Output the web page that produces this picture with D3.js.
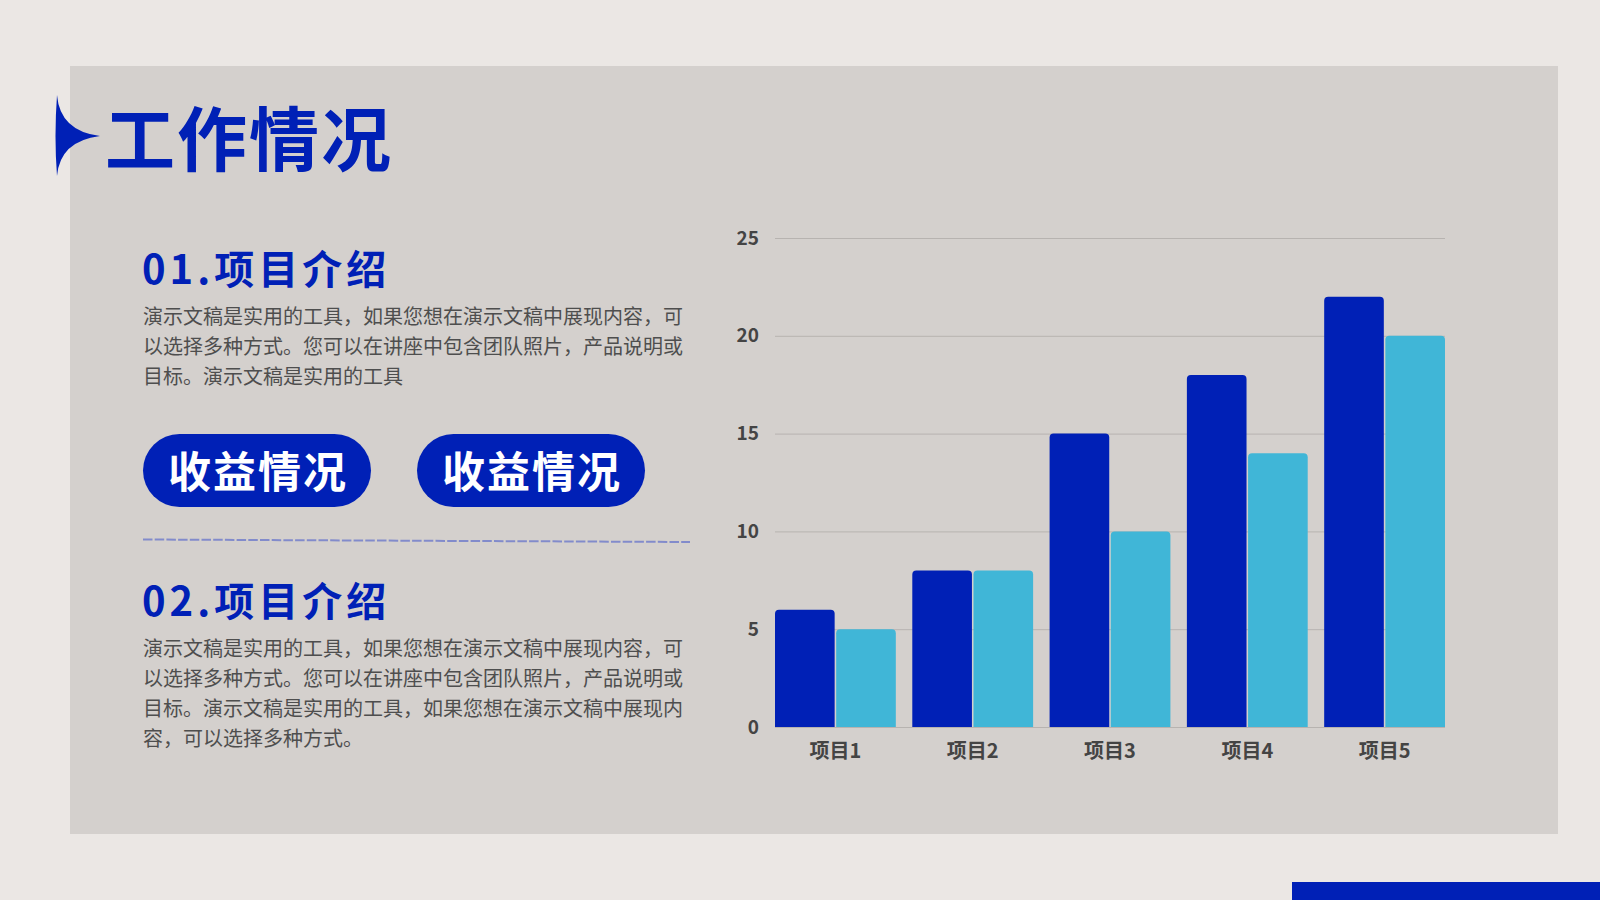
<!DOCTYPE html>
<html>
<head>
<meta charset="utf-8">
<script src="https://cdn.jsdelivr.net/npm/d3@7"></script>
<style>
  html, body { margin: 0; padding: 0; background: #ebe7e4; }
  svg { display: block; }
  text { font-family: "Noto Sans CJK SC", "Noto Sans", sans-serif; }
</style>
</head>
<body>
<script>
//------------------------------------------------------------------------------
// Data
//------------------------------------------------------------------------------

var categories = ["项目1", "项目2", "项目3", "项目4", "项目5"];
var seriesA = [6, 8, 15, 18, 22];
var seriesB = [5, 8, 10, 14, 20];
var yTicks = [0, 5, 10, 15, 20, 25];

var pageTitle = "工作情况";
var sectionTitles = ["01.项目介绍", "02.项目介绍"];
var sectionLines = [
  ["演示文稿是实用的工具，如果您想在演示文稿中展现内容，可",
   "以选择多种方式。您可以在讲座中包含团队照片，产品说明或",
   "目标。演示文稿是实用的工具"],
  ["演示文稿是实用的工具，如果您想在演示文稿中展现内容，可",
   "以选择多种方式。您可以在讲座中包含团队照片，产品说明或",
   "目标。演示文稿是实用的工具，如果您想在演示文稿中展现内",
   "容，可以选择多种方式。"]
];
var buttonLabels = ["收益情况", "收益情况"];

//------------------------------------------------------------------------------
// Page
//------------------------------------------------------------------------------

var W = 1600, H = 900;
var blue = "#0020b6", cyan = "#40b6d7";

var svg = d3.select("body").append("svg")
  .attr("width", W)
  .attr("height", H);

svg.append("rect").attr("width", W).attr("height", H).attr("fill", "#ebe7e4");
svg.append("rect")
  .attr("x", 70).attr("y", 66)
  .attr("width", 1488).attr("height", 768)
  .attr("fill", "#d4d0cd");
svg.append("rect")
  .attr("x", 1292).attr("y", 882)
  .attr("width", W - 1292).attr("height", 18)
  .attr("fill", blue);

// title marker + title
svg.append("path")
  .attr("d", "M57,95 Q60,131 100,136 Q60,141 57,176 Q54,136 57,95 Z")
  .attr("fill", blue);
svg.append("text")
  .attr("x", 105).attr("y", 166)
  .attr("font-size", 70)
  .attr("font-weight", 700)
  .attr("letter-spacing", 2)
  .attr("fill", blue)
  .text(pageTitle);

// sections
var sectionTop = [284, 616];
sectionTitles.forEach(function(t, i) {
  svg.append("text")
    .attr("x", 142).attr("y", sectionTop[i])
    .attr("font-size", 40)
    .attr("font-weight", 700)
    .attr("letter-spacing", 4)
    .attr("fill", blue)
    .text(t);
  svg.append("g").selectAll("text")
    .data(sectionLines[i])
    .join("text")
      .attr("x", 143)
      .attr("y", function(d, j) { return sectionTop[i] + 40 + j * 30; })
      .attr("font-size", 20)
      .attr("fill", "#4e4e4e")
      .text(function(d) { return d; });
});

// buttons
var btn = svg.append("g").selectAll("g")
  .data(buttonLabels)
  .join("g")
    .attr("transform", function(d, i) { return "translate(" + (143 + i * 274) + ",434)"; });
btn.append("rect")
  .attr("width", 228).attr("height", 73)
  .attr("rx", 36.5).attr("ry", 36.5)
  .attr("fill", blue);
btn.append("text")
  .attr("x", 115).attr("y", 54)
  .attr("text-anchor", "middle")
  .attr("font-size", 43)
  .attr("font-weight", 700)
  .attr("letter-spacing", 2)
  .attr("fill", "#ffffff")
  .text(function(d) { return d; });

// dashed divider (slightly tilted, as in the slide)
svg.append("line")
  .attr("x1", 143).attr("y1", 539.5)
  .attr("x2", 690).attr("y2", 542)
  .attr("stroke", "#828bcb")
  .attr("stroke-width", 2)
  .attr("stroke-dasharray", "9.5,2.2");

//------------------------------------------------------------------------------
// Chart
//------------------------------------------------------------------------------

var plot = { left: 775, right: 1445, top: 238, bottom: 727 };

var x = d3.scaleBand()
  .domain(categories)
  .range([plot.left, plot.right])
  .paddingInner(0.12)
  .paddingOuter(0);

var xs = d3.scaleBand()
  .domain(["a", "b"])
  .range([0, x.bandwidth()])
  .paddingInner(0.025);

var y = d3.scaleLinear()
  .domain([0, 25])
  .range([plot.bottom, plot.top]);

var chart = svg.append("g");

// gridlines + y labels
chart.append("g")
  .attr("transform", "translate(" + plot.left + ",0)")
  .call(d3.axisLeft(y).tickValues(yTicks).tickSize(-(plot.right - plot.left)).tickPadding(16))
  .call(function(g) {
    g.select(".domain").remove();
    g.selectAll(".tick line").attr("stroke", "#b7b3b0").attr("stroke-width", 1);
    g.selectAll(".tick text")
      .attr("font-family", "'Noto Sans CJK SC', sans-serif")
      .attr("font-size", 19)
      .attr("font-weight", 700)
      .attr("fill", "#444");
  });

function topRounded(x0, y0, w, h, r) {
  r = Math.min(r, h);
  return "M" + x0 + "," + (y0 + h) +
    "V" + (y0 + r) +
    "Q" + x0 + "," + y0 + " " + (x0 + r) + "," + y0 +
    "H" + (x0 + w - r) +
    "Q" + (x0 + w) + "," + y0 + " " + (x0 + w) + "," + (y0 + r) +
    "V" + (y0 + h) + "Z";
}

var groups = chart.append("g").selectAll("g")
  .data(categories)
  .join("g")
    .attr("transform", function(d) { return "translate(" + x(d) + ",0)"; });

groups.append("path")
  .attr("fill", blue)
  .attr("d", function(d, i) {
    return topRounded(xs("a"), y(seriesA[i]), xs.bandwidth(), y(0) - y(seriesA[i]), 4);
  });
groups.append("path")
  .attr("fill", cyan)
  .attr("d", function(d, i) {
    return topRounded(xs("b"), y(seriesB[i]), xs.bandwidth(), y(0) - y(seriesB[i]), 4);
  });

// x labels
chart.append("g")
  .attr("transform", "translate(0," + plot.bottom + ")")
  .call(d3.axisBottom(x).tickSize(0).tickPadding(17))
  .call(function(g) {
    g.select(".domain").remove();
    g.selectAll(".tick text")
      .attr("font-family", "'Noto Sans CJK SC', sans-serif")
      .attr("font-size", 20)
      .attr("font-weight", 700)
      .attr("fill", "#444");
  });
</script>
</body>
</html>
